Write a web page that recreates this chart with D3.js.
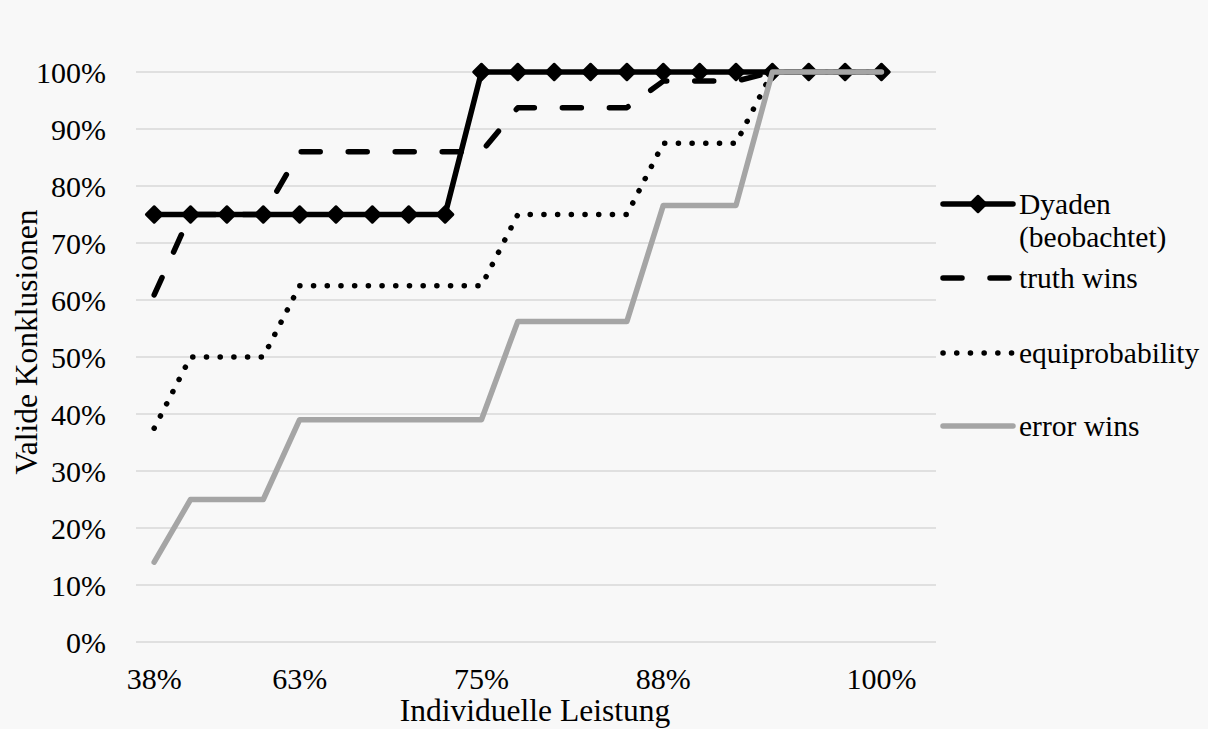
<!DOCTYPE html>
<html>
<head>
<meta charset="utf-8">
<script src="https://cdn.jsdelivr.net/npm/d3@7"></script>
<style>
  html, body { margin: 0; padding: 0; background: #f8f8f8; }
  svg { display: block; }
  text { font-family: "Liberation Serif", "Times New Roman", serif; fill: #000; }
</style>
</head>
<body>
<svg id="chart" width="1208" height="729"></svg>
<script>
// ---- data ----
const categories = ["38%","","","","63%","","","","","75%","","","","","88%","","","","","","100%",""];
const yTicks = [0, 0.1, 0.2, 0.3, 0.4, 0.5, 0.6, 0.7, 0.8, 0.9, 1.0];
const dyaden = [0.75,0.75,0.75,0.75,0.75,0.75,0.75,0.75,0.75,1,1,1,1,1,1,1,1,1,1,1,1];
const truthWins = [0.609,0.75,0.75,0.75,0.86,0.86,0.86,0.86,0.86,0.86,0.9375,0.9375,0.9375,0.9375,0.984,0.984,0.984,1,1,1,1];
const equiprobability = [0.375,0.5,0.5,0.5,0.625,0.625,0.625,0.625,0.625,0.625,0.75,0.75,0.75,0.75,0.875,0.875,0.875,1,1,1,1];
const errorWins = [0.14,0.25,0.25,0.25,0.39,0.39,0.39,0.39,0.39,0.39,0.5625,0.5625,0.5625,0.5625,0.766,0.766,0.766,1,1,1,1];
const seriesNames = ["Dyaden (beobachtet)", "truth wins", "equiprobability", "error wins"];
const xTitle = "Individuelle Leistung";
const yTitle = "Valide Konklusionen";

// ---- layout ----
const W = 1208, H = 729;
const plot = { left: 136, right: 936, top: 72, bottom: 642 };
const FS = 30, FS_TITLE = 31.5, FS_LEG = 29.5;

const svg = d3.select("#chart");
svg.append("rect").attr("width", W).attr("height", H).attr("fill", "#f8f8f8");

const x = d3.scaleBand().domain(d3.range(categories.length)).range([plot.left, plot.right]).padding(0);
const xc = i => x(i) + x.bandwidth() / 2;
const y = d3.scaleLinear().domain([0, 1]).range([plot.bottom, plot.top]);

// gridlines
svg.append("g").selectAll("line").data(yTicks).join("line")
  .attr("x1", plot.left).attr("x2", plot.right)
  .attr("y1", d => y(d)).attr("y2", d => y(d))
  .attr("stroke", "#d9d9d9").attr("stroke-width", 1.5);

// y axis labels
const yAxis = d3.axisLeft(y).tickValues(yTicks).tickFormat(d3.format(".0%")).tickSize(0).tickPadding(0);
const gy = svg.append("g").attr("transform", `translate(106,0)`).call(yAxis);
gy.select(".domain").remove();
gy.selectAll("text").attr("font-size", FS).attr("font-family", "Liberation Serif").attr("fill", "#000")
  .attr("dy", null).attr("y", 10.5).attr("text-anchor", "end");

// x axis labels
const xAxis = d3.axisBottom(x).tickFormat(i => categories[i]).tickSize(0).tickPadding(0);
const gx = svg.append("g").attr("transform", `translate(0,689)`).call(xAxis);
gx.select(".domain").remove();
gx.selectAll("text").attr("font-size", FS).attr("font-family", "Liberation Serif").attr("fill", "#000")
  .attr("dy", null).attr("y", 0).attr("text-anchor", "middle");

// axis titles
svg.append("text").attr("x", 535).attr("y", 721)
  .attr("text-anchor", "middle").attr("font-size", FS_TITLE).text(xTitle);
svg.append("text").attr("transform", "translate(37,342) rotate(-90)")
  .attr("text-anchor", "middle").attr("font-size", FS_TITLE).text(yTitle);

// line generator
const line = d3.line().x((d, i) => xc(i)).y(d => y(d));

const styles = [
  { color: "#000", width: 5.5, dash: null },
  { color: "#000", width: 5.5, dash: "19,28" },
  { color: "#000", width: 5.5, dash: "0.1,13.6" },
  { color: "#a5a5a5", width: 5.5, dash: null }
];
const allSeries = [dyaden, truthWins, equiprobability, errorWins];

const diamond = s => `M0,${-s}L${s},0L0,${s}L${-s},0Z`;

allSeries.forEach((vals, k) => {
  const st = styles[k];
  const g = svg.append("g");
  g.append("path").datum(vals).attr("d", line)
    .attr("fill", "none").attr("stroke", st.color).attr("stroke-width", st.width)
    .attr("stroke-linecap", "round").attr("stroke-linejoin", "round")
    .attr("stroke-dasharray", st.dash);
  if (k === 0) {
    g.selectAll("path.m").data(vals).join("path").attr("class", "m")
      .attr("transform", (d, i) => `translate(${xc(i)},${y(d)})`)
      .attr("d", diamond(8))
      .attr("fill", "#000").attr("stroke", "#000").attr("stroke-width", 2.5).attr("stroke-linejoin", "round");
  }
});

// legend
const legY = [204, 278, 353, 426];
const lx1 = 943, lx2 = 1013, tx = 1019;
const leg = svg.append("g");
seriesNames.forEach((name, k) => {
  const st = styles[k];
  leg.append("line").attr("x1", lx1).attr("x2", lx2).attr("y1", legY[k]).attr("y2", legY[k])
    .attr("stroke", st.color).attr("stroke-width", st.width)
    .attr("stroke-linecap", "round").attr("stroke-dasharray", st.dash);
  if (k === 0) {
    leg.append("path").attr("transform", `translate(${(lx1 + lx2) / 2},${legY[k]})`)
      .attr("d", diamond(8)).attr("fill", "#000").attr("stroke", "#000").attr("stroke-width", 2.5).attr("stroke-linejoin", "round");
    const t = leg.append("text").attr("x", tx).attr("y", legY[k] + 10).attr("font-size", FS_LEG);
    t.append("tspan").attr("x", tx).text("Dyaden");
    t.append("tspan").attr("x", tx).attr("dy", 33).text("(beobachtet)");
  } else {
    leg.append("text").attr("x", tx).attr("y", legY[k] + 10).attr("font-size", FS_LEG).text(name);
  }
});
</script>
</body>
</html>
